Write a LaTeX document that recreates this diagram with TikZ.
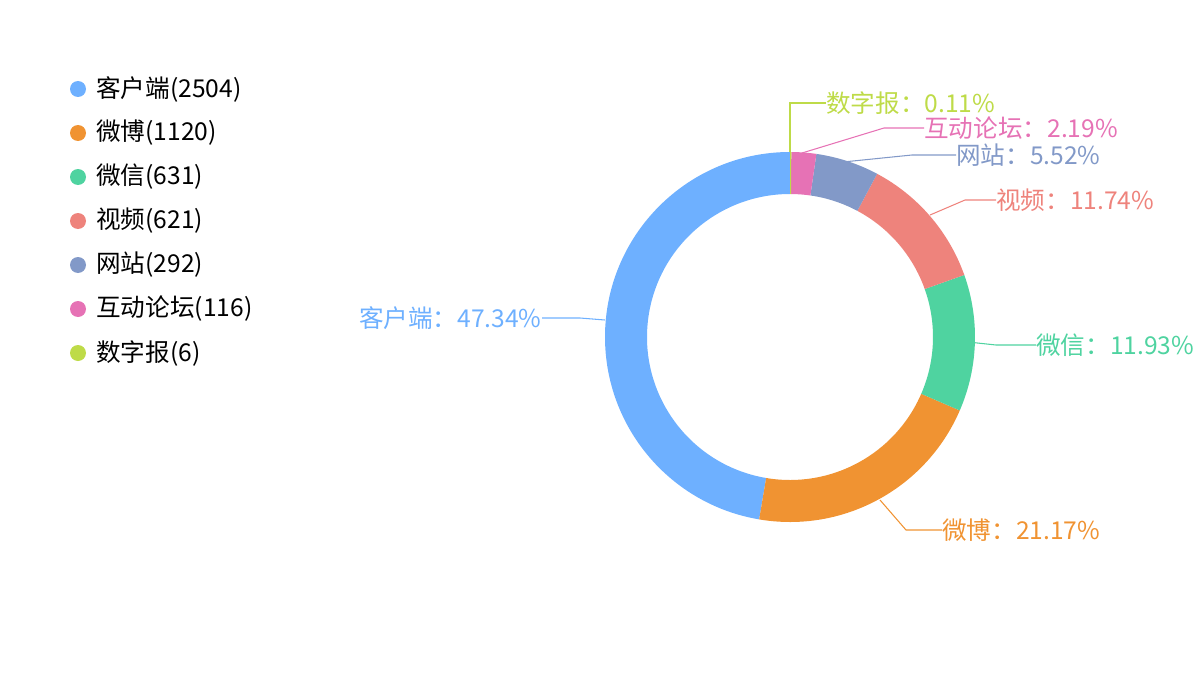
\documentclass[tikz,border=0pt]{standalone}
\usepackage{fontspec}
\setmainfont{Noto Sans CJK SC}
\definecolor{kehu}{RGB}{110,176,255}
\definecolor{weibo}{RGB}{240,147,50}
\definecolor{weixin}{RGB}{79,211,160}
\definecolor{shipin}{RGB}{238,131,124}
\definecolor{wangzhan}{RGB}{130,153,200}
\definecolor{hudong}{RGB}{230,114,181}
\definecolor{shuzi}{RGB}{190,219,72}
\tikzset{
  legtext/.style={anchor=west, inner sep=0pt, font=\fontsize{14pt}{15pt}\selectfont},
  lbl/.style={inner sep=0pt, font=\fontsize{14pt}{15pt}\selectfont},
  leader/.style={line width=0.6pt}
}
\begin{document}
\begin{tikzpicture}[x=0.02cm,y=0.02cm]
			\useasboundingbox (0,0) rectangle (1200,674);

			% ring slices
			\foreach \a/\b/\c in {90/260.4/kehu, 260.4/336.6/weibo, 336.6/379.6/weixin, 379.6/421.9/shipin, 421.9/441.8/wangzhan, 441.8/449.6/hudong, 449.6/450/shuzi}
				\fill[\c] ([shift={(\a:185)}]790,337) arc (\a:\b:185) -- ([shift={(\b:143)}]790,337) arc (\b:\a:143) -- cycle;

			% legend
			\foreach \t/\c [count=\i] in {客户端(2504)/kehu, 微博(1120)/weibo, 微信(631)/weixin, 视频(621)/shipin, 网站(292)/wangzhan, 互动论坛(116)/hudong, 数字报(6)/shuzi} {
				\fill[\c] (78,629-44*\i) circle [radius=8];
				\node[legtext] (leg\i) at (96,629-44*\i) {\t};
			}

			% slice labels
			\node[lbl, anchor=east, text=kehu] (lkehu) at (542,356) {客户端：47.34\%};
			\node[lbl, anchor=west, text=weibo] (lweibo) at (942,144) {微博：21.17\%};
			\node[lbl, anchor=west, text=weixin] (lweixin) at (1036,329) {微信：11.93\%};
			\node[lbl, anchor=west, text=shipin] (lshipin) at (996,474) {视频：11.74\%};
			\node[lbl, anchor=west, text=wangzhan] (lwangzhan) at (956,519) {网站：5.52\%};
			\node[lbl, anchor=west, text=hudong] (lhudong) at (924,546) {互动论坛：2.19\%};
			\node[lbl, anchor=west, text=shuzi] (lshuzi) at (826,571) {数字报：0.11\%};

			% leader lines
			\coordinate (pkehu) at (605,354);
			\coordinate (pweibo) at (880,174);
			\coordinate (pweixin) at (968,332);
			\coordinate (pshipin) at (930,459);
			\coordinate (pwangzhan) at (843,512);
			\coordinate (phudong) at (802,521);
			\coordinate (pshuzi) at (790,522);
			\draw[leader, kehu] (pkehu) -- (580,356) -- (lkehu.east);
			\draw[leader, weibo] (pweibo) -- (906,144) -- (lweibo.west);
			\draw[leader, weixin] (pweixin) -- (996,329) -- (lweixin.west);
			\draw[leader, shipin] (pshipin) -- (965,474) -- (lshipin.west);
			\draw[leader, wangzhan] (pwangzhan) -- (912,519) -- (lwangzhan.west);
			\draw[leader, hudong] (phudong) -- (884,546) -- (lhudong.west);
			\draw[leader, shuzi] (pshuzi) -- (790,571) -- (lshuzi.west);
		\end{tikzpicture}
\end{document}
